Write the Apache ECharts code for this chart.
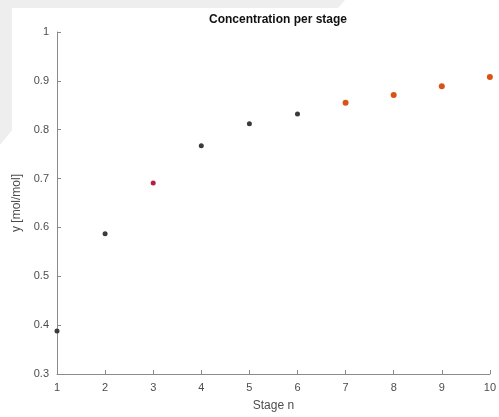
<!DOCTYPE html>
<html>
<head>
<meta charset="utf-8">
<script src="https://cdn.jsdelivr.net/npm/echarts@6/dist/echarts.min.js"></script>
<style>
  html, body { margin: 0; padding: 0; background: #ffffff; }
  #chart { width: 499px; height: 417px; }
</style>
</head>
<body>
<div id="chart"></div>
<script>
// Stage numbers and vapour concentrations
const stages = [1, 2, 3, 4, 5, 6, 7, 8, 9, 10];
const concentration = [0.388, 0.587, 0.691, 0.767, 0.812, 0.832, 0.855, 0.871, 0.889, 0.908];
// Which group each stage belongs to: 0 = computed, 1 = feed stage, 2 = rectifying
const stageGroup = [0, 0, 1, 0, 0, 0, 2, 2, 2, 2];
const groupColors = ['#3a3a3a', '#b5203c', '#d95319'];
const groupSizes = [5, 5, 6];

const xTicks = [1, 2, 3, 4, 5, 6, 7, 8, 9, 10];
const yTicks = [0.3, 0.4, 0.5, 0.6, 0.7, 0.8, 0.9, 1];

function groupData(g) {
  const out = [];
  stages.forEach((s, i) => { if (stageGroup[i] === g) out.push([s, concentration[i]]); });
  return out;
}

const chart = echarts.init(document.getElementById('chart'), null, { renderer: 'canvas' });

const axisGray = '#8a8a8a';
const labelGray = '#4d4d4d';

chart.setOption({
  animation: false,
  backgroundColor: '#ffffff',
  graphic: [
    // faint grey band behind the upper-left corner
    {
      type: 'polygon', z: -10, silent: true,
      shape: { points: [[0, 0], [345, 0], [338, 8], [12, 8], [12, 130], [0, 145]] },
      style: { fill: '#eeeeee' }
    }
  ],
  title: {
    text: 'Concentration per stage',
    left: 273, top: 9, textAlign: 'center',
    textStyle: { fontFamily: 'Liberation Sans, Arial, sans-serif', fontSize: 12, fontWeight: 'bold', color: '#111111' }
  },
  grid: { left: 57, right: 9, top: 32, bottom: 43, containLabel: false },
  xAxis: {
    type: 'value', min: 1, max: 10, interval: 1,
    name: 'Stage n', nameLocation: 'middle', nameGap: 26,
    nameTextStyle: { fontFamily: 'Liberation Sans, Arial, sans-serif', fontSize: 12, color: labelGray },
    axisLine: { show: true, lineStyle: { color: axisGray, width: 1 } },
    axisTick: { show: true, inside: true, length: 4, lineStyle: { color: axisGray } },
    axisLabel: { fontFamily: 'Liberation Sans, Arial, sans-serif', fontSize: 11, color: labelGray, margin: 8,
      formatter: v => xTicks.includes(v) ? String(v) : '' },
    splitLine: { show: false }
  },
  yAxis: {
    type: 'value', min: 0.3, max: 1, interval: 0.1,
    name: 'y [mol/mol]', nameLocation: 'middle', nameGap: 31,
    nameTextStyle: { fontFamily: 'Liberation Sans, Arial, sans-serif', fontSize: 12, color: labelGray },
    axisLine: { show: true, lineStyle: { color: axisGray, width: 1 } },
    axisTick: { show: true, inside: true, length: 4, lineStyle: { color: axisGray } },
    axisLabel: { fontFamily: 'Liberation Sans, Arial, sans-serif', fontSize: 11, color: labelGray, margin: 8,
      formatter: v => {
        const t = yTicks.find(k => Math.abs(k - v) < 1e-6);
        return t === undefined ? '' : String(t);
      } },
    splitLine: { show: false }
  },
  series: [0, 1, 2].map(g => ({
    type: 'scatter',
    data: groupData(g),
    symbol: 'circle',
    symbolSize: groupSizes[g],
    itemStyle: { color: groupColors[g], opacity: 1 },
    clip: false
  }))
});
</script>
</body>
</html>
